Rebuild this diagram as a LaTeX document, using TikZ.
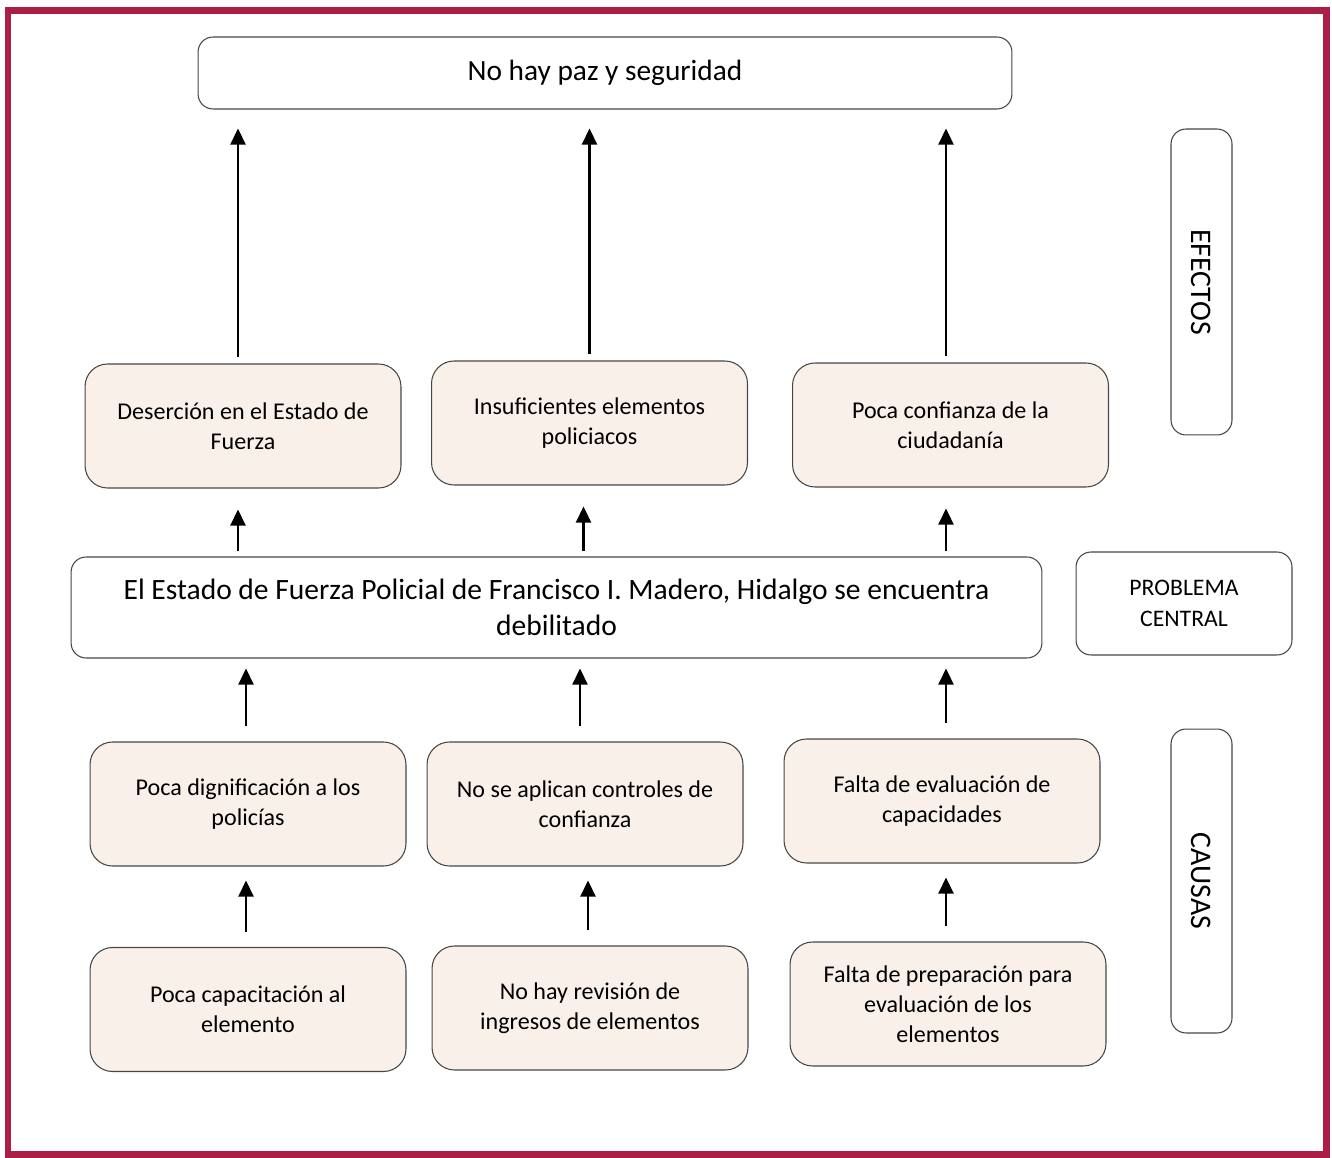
\documentclass[tikz,border=0pt]{standalone}
\usepackage{fontspec}
\setmainfont{Carlito}
\usetikzlibrary{arrows.meta}
\definecolor{marco}{RGB}{172,30,70}
\definecolor{caja}{RGB}{250,240,234}
\definecolor{borde}{RGB}{70,70,70}
\tikzset{
 cajita/.style={draw=borde,line width=0.6pt,rounded corners=0.45cm,fill=caja,align=center,
   minimum width=6.32cm,minimum height=2.48cm,font=\fontsize{13.7}{17}\selectfont},
 blanca/.style={draw=borde,line width=0.6pt,rounded corners=0.3cm,fill=white,align=center},
 etiqueta/.style={blanca,font=\fontsize{13.5}{17.6}\selectfont},
 flecha/.style={line width=1.3pt,-{Triangle[length=0.32cm,width=0.3cm]}}
}
\begin{document}
\begin{tikzpicture}[x=0.02cm,y=-0.02cm]
 \useasboundingbox (0,0) rectangle (1332,1158);
 \draw[marco,line width=0.14cm](8,10.5) rectangle (1326,1154);
 % efectos
 \node[blanca,minimum width=16.28cm,minimum height=1.44cm,font=\fontsize{16.7}{20}\selectfont] (paz) at (605,73) {No hay paz y seguridad};
 \node[cajita] (ef1) at (243,426) {Deserción en el Estado de\\Fuerza};
 \node[cajita] (ef2) at (589.5,423) {Insuficientes elementos\\policiacos};
 \node[cajita] (ef3) at (950.5,425) {Poca confianza de la\\ciudadanía};
 % problema central
 \node[blanca,minimum width=19.42cm,minimum height=2.02cm,font=\fontsize{16.8}{20.4}\selectfont] (prob) at (556.5,607.5) {El Estado de Fuerza Policial de Francisco I. Madero, Hidalgo se encuentra\\debilitado};
 % causas
 \node[cajita] (ca1) at (248,804) {Poca dignificación a los\\policías};
 \node[cajita] (ca2) at (585,804) {No se aplican controles de\\confianza};
 \node[cajita] (ca3) at (942,801) {Falta de evaluación de\\capacidades};
 \node[cajita] (cb1) at (248,1009.5) {Poca capacitación al\\elemento};
 \node[cajita] (cb2) at (590,1008) {No hay revisión de\\ingresos de elementos};
 \node[cajita] (cb3) at (948,1004) {Falta de preparación para\\evaluación de los\\elementos};
 % etiquetas laterales
 \node[etiqueta,rotate=-90,minimum width=6.12cm,minimum height=1.22cm,font=\fontsize{17}{20}\selectfont] (efectos) at (1201.5,282) {EFECTOS};
 \node[etiqueta,minimum width=4.32cm,minimum height=2.06cm] (central) at (1184,603.5) {PROBLEMA\\CENTRAL};
 \node[etiqueta,rotate=-90,minimum width=6.08cm,minimum height=1.22cm,font=\fontsize{17}{20}\selectfont] (causas) at (1201.5,881) {CAUSAS};
 % pies de flechas
 \coordinate (p1) at ([xshift=-0.1cm]ef1.north);
 \coordinate (p3) at ([xshift=-0.09cm]ef3.north);
 \coordinate (q1) at ([xshift=-0.1cm]ef1.south);
 \coordinate (q2) at ([xshift=-0.12cm]ef2.south);
 \coordinate (q3) at ([xshift=-0.09cm]ef3.south);
 \coordinate (r1) at ([xshift=-0.04cm]ca1.north);
 \coordinate (r2) at ([xshift=-0.1cm]ca2.north);
 \coordinate (r3) at ([xshift=0.08cm]ca3.north);
 \coordinate (s1) at ([xshift=-0.04cm]cb1.north);
 \coordinate (s2) at ([xshift=-0.04cm]cb2.north);
 \coordinate (s3) at ([xshift=-0.04cm]cb3.north);
 % flechas
 \draw[flecha,shorten <=0.12cm,shorten >=0.38cm](p1)--(paz.south -| p1);
 \draw[flecha,shorten <=0.12cm,shorten >=0.38cm](ef2.north)--(paz.south -| ef2.north);
 \draw[flecha,shorten <=0.12cm,shorten >=0.38cm](p3)--(paz.south -| p3);
 \draw[flecha,shorten <=0.1cm,shorten >=0.42cm](prob.north -| q1)--(q1);
 \draw[flecha,shorten <=0.1cm,shorten >=0.42cm](prob.north -| q2)--(q2);
 \draw[flecha,shorten <=0.1cm,shorten >=0.42cm](prob.north -| q3)--(q3);
 \draw[flecha,shorten <=0.3cm,shorten >=0.2cm](r1)--(prob.south -| r1);
 \draw[flecha,shorten <=0.3cm,shorten >=0.2cm](r2)--(prob.south -| r2);
 \draw[flecha,shorten <=0.3cm,shorten >=0.2cm](r3)--(prob.south -| r3);
 \draw[flecha,shorten <=0.3cm,shorten >=0.28cm](s1)--(ca1.south -| s1);
 \draw[flecha,shorten <=0.3cm,shorten >=0.28cm](s2)--(ca2.south -| s2);
 \draw[flecha,shorten <=0.3cm,shorten >=0.28cm](s3)--(ca3.south -| s3);
\end{tikzpicture}
\end{document}
